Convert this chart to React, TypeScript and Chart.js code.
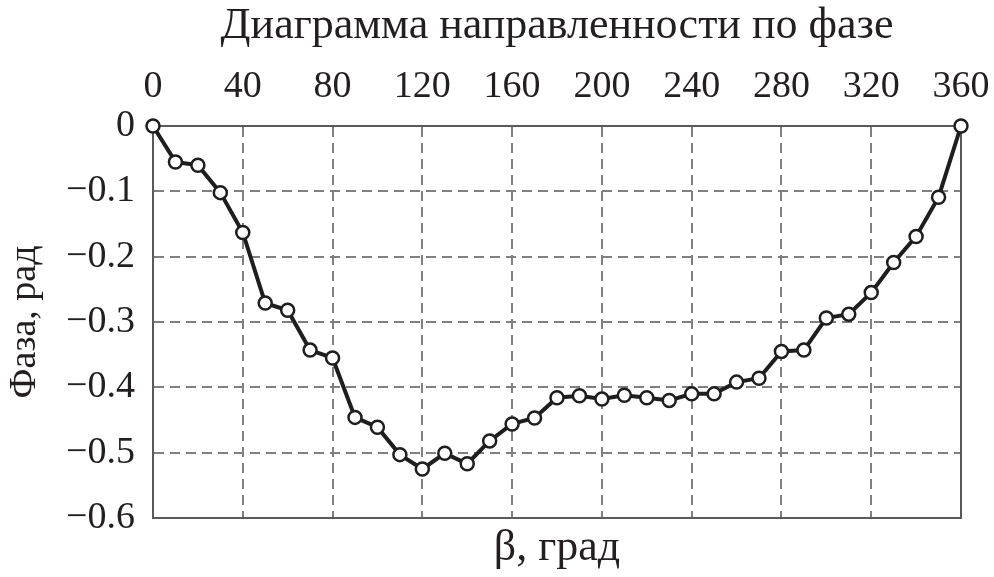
import React, { useEffect, useRef } from "react";
import { Chart, registerables } from "chart.js";

Chart.register(...registerables);

const betaDeg = [0, 10, 20, 30, 40, 50, 60, 70, 80, 90, 100, 110, 120, 130, 140, 150, 160, 170, 180, 190, 200, 210, 220, 230, 240, 250, 260, 270, 280, 290, 300, 310, 320, 330, 340, 350, 360];
const phaseRad = [0, -0.055, -0.06, -0.102, -0.163, -0.271, -0.282, -0.343, -0.355, -0.446, -0.461, -0.503, -0.525, -0.501, -0.517, -0.482, -0.456, -0.447, -0.416, -0.413, -0.418, -0.412, -0.416, -0.42, -0.41, -0.41, -0.392, -0.386, -0.345, -0.343, -0.294, -0.288, -0.255, -0.209, -0.169, -0.109, 0];
const xTickValues = [0, 40, 80, 120, 160, 200, 240, 280, 320, 360];
const yTickValues = [0, -0.1, -0.2, -0.3, -0.4, -0.5, -0.6];
const chartTitle = "Диаграмма направленности по фазе";
const xTitle = "β, град";
const yTitle = "Фаза, рад";

const FONT = "'Liberation Serif', 'Times New Roman', serif";
const TEXT = "#231f20";
const GRID = "#808080";
const AXIS = "#5a5a5a";
const LINE = "#1e1e1e";

const frame = {
  id: "frame",
  beforeDatasetsDraw(chart: any) {
    const { ctx, chartArea } = chart;
    ctx.save();
    ctx.strokeStyle = AXIS;
    ctx.lineWidth = 2;
    ctx.setLineDash([]);
    ctx.strokeRect(chartArea.left, chartArea.top, chartArea.right - chartArea.left, chartArea.bottom - chartArea.top);
    ctx.restore();
  },
};

export default function App() {
  const ref = useRef<HTMLCanvasElement | null>(null);
  useEffect(() => {
    if (!ref.current) return;
    const chart = new Chart(ref.current, {
      type: "line",
      data: {
        datasets: [
          {
            data: betaDeg.map((b, i) => ({ x: b, y: phaseRad[i] })),
            borderColor: LINE,
            borderWidth: 4,
            pointRadius: 6.5,
            pointBackgroundColor: "#ffffff",
            pointBorderColor: LINE,
            pointBorderWidth: 2.5,
            tension: 0,
            clip: false as any,
          },
        ],
      },
      options: {
        responsive: false,
        animation: false,
        devicePixelRatio: 1,
        layout: { padding: { left: 0, right: 33, top: 0, bottom: 0 } },
        plugins: {
          legend: { display: false },
          tooltip: { enabled: false },
          title: {
            display: true,
            text: chartTitle,
            fullSize: false,
            color: TEXT,
            font: { family: FONT, size: 44, weight: "normal", lineHeight: 1.2 },
            padding: { top: 0, bottom: 0 },
          },
          subtitle: {
            display: true,
            text: xTitle,
            position: "bottom",
            fullSize: false,
            color: TEXT,
            font: { family: FONT, size: 44, weight: "normal", lineHeight: 1.2 },
            padding: { top: 4, bottom: 2.2 },
          },
        },
        scales: {
          x: {
            type: "linear",
            position: "top",
            min: 0,
            max: 360,
            afterBuildTicks: (s: any) => {
              s.ticks = xTickValues.map((v) => ({ value: v }));
            },
            afterFit: (s: any) => {
              s.height = 73.2;
              s.paddingLeft = 0;
              s.paddingRight = 0;
            },
            ticks: {
              autoSkip: false,
              maxRotation: 0,
              padding: 16,
              color: TEXT,
              font: { family: FONT, size: 38, lineHeight: 1.2 },
              callback: (v: any) => String(v),
            },
            grid: { color: GRID, lineWidth: 2, drawTicks: false },
            border: { display: true, color: AXIS, width: 2, dash: [10, 6] },
          },
          y: {
            type: "linear",
            min: -0.6,
            max: 0,
            afterBuildTicks: (s: any) => {
              s.ticks = yTickValues.map((v) => ({ value: v }));
            },
            afterFit: (s: any) => {
              s.width = 153;
            },
            ticks: {
              padding: 18,
              color: TEXT,
              font: { family: FONT, size: 38, lineHeight: 1.2 },
              callback: (v: any) => {
                const n = Math.round(Number(v) * 10) / 10;
                if (n === 0) return "0";
                return (n < 0 ? "\u2212" : "") + Math.abs(n).toFixed(1);
              },
            },
            title: {
              display: true,
              text: yTitle,
              color: TEXT,
              font: { family: FONT, size: 38, lineHeight: 1.2 },
              padding: { top: 2, bottom: 0 },
            },
            grid: { color: GRID, lineWidth: 2, drawTicks: false },
            border: { display: true, color: AXIS, width: 2, dash: [10, 6] },
          },
        },
      } as any,
      plugins: [frame],
    });
    return () => chart.destroy();
  }, []);
  return (
    <div style={{ position: "absolute", left: 0, top: 0, width: 994, height: 577, background: "#fff" }}>
      <canvas ref={ref} width={994} height={577} style={{ display: "block" }} />
    </div>
  );
}
